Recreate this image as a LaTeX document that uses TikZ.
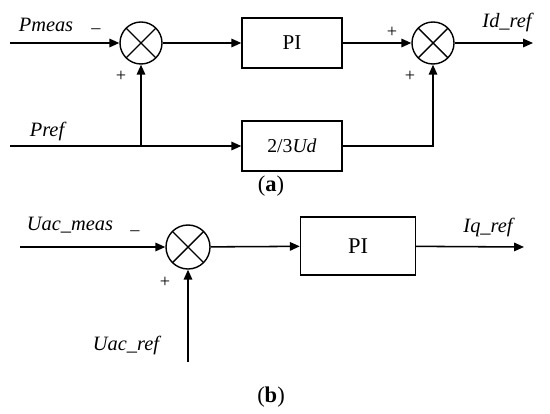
\documentclass[tikz,border=0pt]{standalone}
\usepackage{fontspec}
\setmainfont{Liberation Serif}
\usetikzlibrary{arrows.meta,positioning}

\begin{document}
\begin{tikzpicture}[x=0.025cm, y=-0.025cm, line width=1.1pt,
    >={Triangle[length=7pt,width=6pt]},
    every node/.style={font=\fontsize{14}{16}\selectfont},
    blk/.style={draw, rectangle, line width=1pt, minimum width=2.5cm, minimum height=1.25cm, inner sep=0pt},
    sumnode/.style={draw, circle, line width=1pt, minimum size=1.05cm, inner sep=0pt,
        path picture={\draw (path picture bounding box.north west) -- (path picture bounding box.south east)
            (path picture bounding box.north east) -- (path picture bounding box.south west);}},
    lbl/.style={font=\fontsize{14.5}{16}\selectfont\itshape},
    sgn/.style={font=\fontsize{13}{14}\selectfont},
    captxt/.style={font=\fontsize{16}{18}\selectfont}]

    \useasboundingbox (0,0) rectangle (550,413);

    % (a) 有功外环
    \node[sumnode] at (141,43) (sum1) {};
    \node[blk, font=\fontsize{15}{16}\selectfont] at (292,43) (pi1) {PI};
    \node[sumnode] at (433,43) (sum2) {};
    \node[blk] at (292,146) (gain) {2/3\textit{Ud}};
    \coordinate (pin) at (10,43);
    \coordinate (pref) at (10,146);
    \coordinate (jn) at (141,146);
    \coordinate (idout) at (533,43);
    \draw[->] (pin) -- (sum1);
    \draw[->] (sum1) -- (pi1);
    \draw[->] (pi1) -- (sum2);
    \draw[->] (sum2) -- (idout);
    \draw (pref) -- (jn);
    \draw[->] (jn) -- (gain);
    \draw[->] (jn) -- (sum1);
    \draw[->] (gain) -| (sum2);
    \node[lbl] at (46,25) (pmeaslbl) {Pmeas};
    \node[lbl] at (47,131) (preflbl) {Pref};
    \node[lbl] at (507,22) (idlbl) {Id\_ref};
    \node[sgn] at (96,31) (s1) {–};
    \node[sgn] at (121,76) (s2) {+};
    \node[sgn] at (392,32) (s3) {+};
    \node[sgn] at (410,76) (s4) {+};
    \node[captxt] at (271,186) (capa) {(\textbf{a})};

    % (b) 交流电压外环
    \node[sumnode, minimum size=1.1cm] at (188,247) (sum3) {};
    \node[blk, minimum width=2.875cm, minimum height=1.45cm, font=\fontsize{16}{18}\selectfont] at (358,246) (pi2) {PI};
    \coordinate (uin) at (20,247);
    \coordinate (uref) at (188,362);
    \coordinate (iqout) at (524,247);
    \draw[->] (uin) -- (sum3);
    \draw[->] (uref) -- (sum3);
    \draw[->] (sum3) -- (pi2);
    \draw[->] (pi2) -- (iqout);
    \node[lbl] at (70,225) (umeaslbl) {Uac\_meas};
    \node[lbl] at (126,345) (ureflbl) {Uac\_ref};
    \node[lbl] at (488,227) (iqlbl) {Iq\_ref};
    \node[sgn] at (135,233) (s5) {–};
    \node[sgn] at (165,282) (s6) {+};
    \node[captxt] at (271,397) (capb) {(\textbf{b})};
\end{tikzpicture}
\end{document}
